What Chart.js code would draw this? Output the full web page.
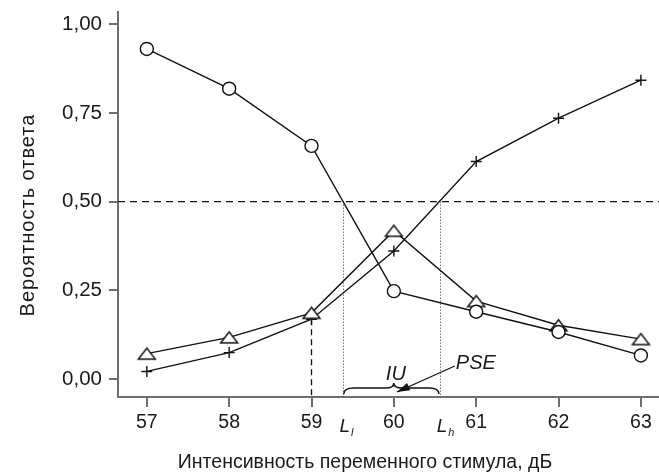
<!DOCTYPE html>
<html>
<head>
<meta charset="utf-8">
<script src="https://cdn.jsdelivr.net/npm/chart.js@4/dist/chart.umd.min.js"></script>
<style>
html,body{margin:0;padding:0;background:#fff;}
#wrap{width:659px;height:472px;}
</style>
</head>
<body>
<div id="wrap"><canvas id="c" width="659" height="472"></canvas></div>
<script>
// ---- data ----
const xValues = [57, 58, 59, 60, 61, 62, 63];
const circleSeries = [0.93, 0.818, 0.657, 0.248, 0.19, 0.133, 0.067];
const triangleSeries = [0.072, 0.118, 0.187, 0.418, 0.22, 0.152, 0.113];
const plusSeries = [0.022, 0.075, 0.169, 0.361, 0.613, 0.735, 0.842];
const yTickValues = [0, 0.25, 0.5, 0.75, 1.0];
const thresholdValue = 0.5;
const limitValues = [59.38, 60.56];
const limitLabels = [['L', 'l'], ['L', 'h']];
const pseValue = 60;
const xTitle = 'Интенсивность переменного стимула, дБ';
const yTitle = 'Вероятность ответа';
const iuLabel = 'IU';
const pseLabel = 'PSE';

const FONT = "'Liberation Sans', Arial, Helvetica, sans-serif";
const AXIS_COLOR = '#6e6e6e';
const TEXT_COLOR = '#1a1a1a';

function toPoints(vals) { return xValues.map((x, i) => ({x: x, y: vals[i]})); }

// triangle marker image (wide, flat triangle)
function makeTriangle() {
  const cv = document.createElement('canvas');
  cv.width = 21; cv.height = 15;
  const g = cv.getContext('2d');
  g.beginPath();
  g.moveTo(2, 13);
  g.lineTo(10.5, 2);
  g.lineTo(19, 13);
  g.closePath();
  g.fillStyle = '#fff';
  g.fill();
  g.lineWidth = 1.4;
  g.strokeStyle = '#111';
  g.stroke();
  return cv;
}
const triImg = makeTriangle();

const overlay = {
  id: 'overlay',
  beforeDatasetsDraw(chart) {
    const ctx = chart.ctx;
    const xs = chart.scales.x, ys = chart.scales.y;
    const area = chart.chartArea;
    const yT = ys.getPixelForValue(thresholdValue);
    ctx.save();
    ctx.strokeStyle = '#111';
    ctx.lineWidth = 1.3;
    ctx.setLineDash([7, 5]);
    ctx.beginPath();
    ctx.moveTo(area.left, yT);
    ctx.lineTo(area.right, yT);
    ctx.stroke();
    const x59 = xs.getPixelForValue(xValues[2]);
    ctx.setLineDash([6, 4]);
    ctx.beginPath();
    ctx.moveTo(x59, ys.getPixelForValue(plusSeries[2]));
    ctx.lineTo(x59, area.bottom);
    ctx.stroke();
    ctx.strokeStyle = '#333';
    ctx.lineWidth = 1;
    ctx.setLineDash([1, 2]);
    limitValues.forEach(v => {
      const px = Math.round(xs.getPixelForValue(v)) + 0.5;
      ctx.beginPath();
      ctx.moveTo(px, yT);
      ctx.lineTo(px, area.bottom);
      ctx.stroke();
    });
    ctx.restore();
  },
  afterDraw(chart) {
    const ctx = chart.ctx;
    const xs = chart.scales.x, ys = chart.scales.y;
    const area = chart.chartArea;
    ctx.save();
    const xl = xs.getPixelForValue(limitValues[0]);
    const xh = xs.getPixelForValue(limitValues[1]);
    const xm = xs.getPixelForValue(pseValue);
    const yb = area.bottom - 3;
    const yl = yb - 6;
    const yt = yb - 11;
    ctx.strokeStyle = '#111';
    ctx.lineWidth = 1.5;
    ctx.beginPath();
    ctx.moveTo(xl + 1, yb);
    ctx.quadraticCurveTo(xl + 1, yl, xl + 11, yl);
    ctx.lineTo(xm - 8, yl);
    ctx.quadraticCurveTo(xm, yl, xm, yt);
    ctx.quadraticCurveTo(xm, yl, xm + 8, yl);
    ctx.lineTo(xh - 11, yl);
    ctx.quadraticCurveTo(xh - 1, yl, xh - 1, yb);
    ctx.stroke();

    ctx.fillStyle = TEXT_COLOR;
    ctx.font = 'italic 20px ' + FONT;
    ctx.textAlign = 'center';
    ctx.textBaseline = 'alphabetic';
    ctx.fillText(iuLabel, xm + 2, 380);

    const px0 = xm + 61, py0 = 366;
    ctx.textAlign = 'left';
    ctx.fillText(pseLabel, px0 + 1, 369);
    const tx = xm + 3, ty = area.bottom - 5;
    ctx.beginPath();
    ctx.moveTo(px0, py0);
    ctx.lineTo(tx, ty);
    ctx.lineWidth = 1.3;
    ctx.stroke();
    const ang = Math.atan2(ty - py0, tx - px0);
    const L = 13, W = 4;
    ctx.beginPath();
    ctx.moveTo(tx, ty);
    ctx.lineTo(tx - L * Math.cos(ang) + W * Math.sin(ang), ty - L * Math.sin(ang) - W * Math.cos(ang));
    ctx.lineTo(tx - L * Math.cos(ang) - W * Math.sin(ang), ty - L * Math.sin(ang) + W * Math.cos(ang));
    ctx.closePath();
    ctx.fillStyle = '#111';
    ctx.fill();

    ctx.fillStyle = TEXT_COLOR;
    limitValues.forEach((v, i) => {
      const px = xs.getPixelForValue(v);
      ctx.font = 'italic 19px ' + FONT;
      ctx.textAlign = 'center';
      ctx.fillText(limitLabels[i][0], px + 2, 432);
      const w = ctx.measureText(limitLabels[i][0]).width;
      ctx.font = 'italic 11px ' + FONT;
      ctx.textAlign = 'left';
      ctx.fillText(limitLabels[i][1], px + 2 + w / 2 + 1, 436);
    });

    ctx.font = '19.5px ' + FONT;
    ctx.fillStyle = TEXT_COLOR;
    ctx.textAlign = 'center';
    ctx.textBaseline = 'alphabetic';
    ctx.fillText(xTitle, 365, 468);
    ctx.font = '20px ' + FONT;
    ctx.letterSpacing = '1px';
    ctx.translate(34, 215);
    ctx.rotate(-Math.PI / 2);
    ctx.fillText(yTitle, 0, 0);
    ctx.letterSpacing = '0px';
    ctx.restore();
  }
};

const lineStyle = {
  borderColor: '#111',
  borderWidth: 1.4,
  pointBackgroundColor: '#fff',
  pointBorderColor: '#111',
  pointBorderWidth: 1.4,
  tension: 0,
  fill: false
};

new Chart(document.getElementById('c'), {
  type: 'line',
  data: {
    datasets: [
      Object.assign({label: 'circle', data: toPoints(circleSeries), pointStyle: 'circle', pointRadius: 6.5}, lineStyle),
      Object.assign({label: 'triangle', data: toPoints(triangleSeries), pointStyle: triImg, pointRadius: 8}, lineStyle),
      Object.assign({label: 'plus', data: toPoints(plusSeries), pointStyle: 'cross', pointRadius: 5.5, pointBorderWidth: 1.4}, lineStyle)
    ]
  },
  options: {
    responsive: false,
    animation: false,
    events: [],
    layout: {autoPadding: false, padding: {top: 12, right: 0, left: 0, bottom: 0}},
    plugins: {legend: {display: false}, tooltip: {enabled: false}},
    scales: {
      x: {
        type: 'linear',
        min: 56.65,
        max: 63.22,
        afterBuildTicks(s) { s.ticks = xValues.map(v => ({value: v})); },
        afterFit(s) { s.height = 75; s.paddingLeft = 0; s.paddingRight = 0; },
        grid: {drawOnChartArea: false, color: AXIS_COLOR, lineWidth: 2, tickLength: 10},
        border: {color: AXIS_COLOR, width: 2},
        ticks: {color: TEXT_COLOR, font: {family: FONT, size: 19.5}, padding: 4, maxRotation: 0,
                callback: v => String(v)}
      },
      y: {
        type: 'linear',
        min: -0.05,
        max: 1.034,
        afterBuildTicks(s) { s.ticks = yTickValues.map(v => ({value: v})); },
        afterFit(s) { s.width = 118; s.paddingTop = 0; s.paddingBottom = 0; },
        grid: {drawOnChartArea: false, color: AXIS_COLOR, lineWidth: 2, tickLength: 9},
        border: {color: AXIS_COLOR, width: 2},
        ticks: {color: TEXT_COLOR, font: {family: FONT, size: 20.5}, padding: 7,
                callback: v => v.toFixed(2).replace('.', ',')}
      }
    }
  },
  plugins: [overlay]
});
</script>
</body>
</html>
